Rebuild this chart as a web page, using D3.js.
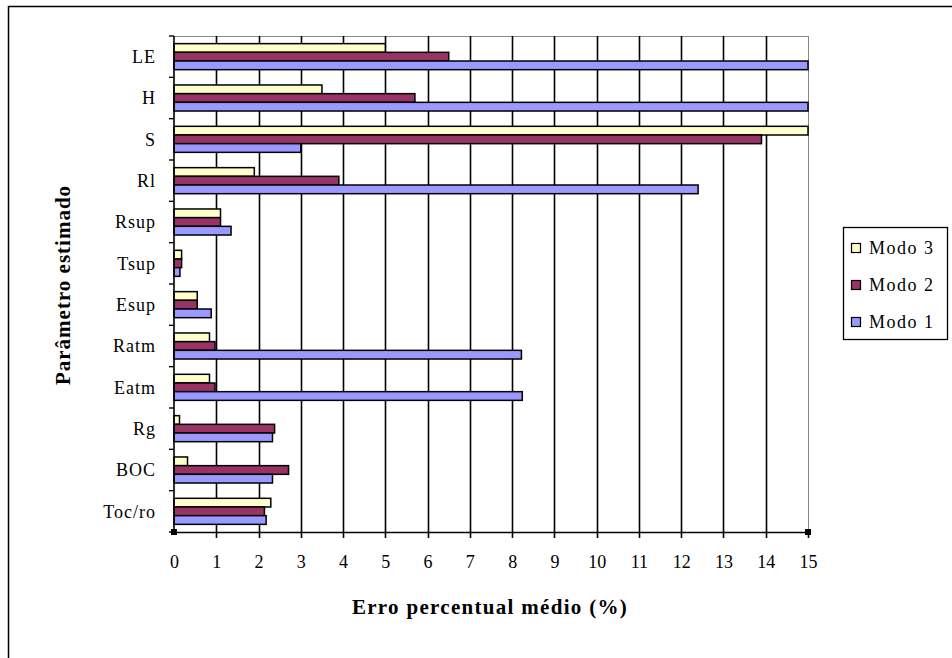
<!DOCTYPE html>
<html>
<head>
<meta charset="utf-8">
<script src="https://cdn.jsdelivr.net/npm/d3@7/dist/d3.min.js"></script>
<style>
  html, body { margin: 0; padding: 0; background: #fff; }
  svg { display: block; }
  svg text { font-family: "Liberation Serif", "DejaVu Serif", serif; fill: #000; }
</style>
</head>
<body>
<svg id="chart" width="952" height="658" font-family="Liberation Serif, serif"></svg>
<script>
// Parameters, top to bottom
const categories = ["LE", "H", "S", "Rl", "Rsup", "Tsup", "Esup", "Ratm", "Eatm", "Rg", "BOC", "Toc/ro"];
// Series in the order drawn within each group (top to bottom)
const seriesNames = ["Modo 3", "Modo 2", "Modo 1"];
// Mean percentage error per parameter; values above 15 run off the axis
const modo3 = [5.0, 3.5, 16.0, 1.9, 1.1, 0.18, 0.55, 0.84, 0.84, 0.13, 0.32, 2.29];
const modo2 = [6.5, 5.7, 13.9, 3.9, 1.1, 0.18, 0.55, 0.97, 0.97, 2.38, 2.71, 2.14];
const modo1 = [16.0, 16.0, 3.0, 12.4, 1.35, 0.14, 0.88, 8.22, 8.24, 2.33, 2.33, 2.18];
const xTicks = d3.range(0, 16, 1);
const colors = ["#FFFFCC", "#993366", "#9999FF"];

const seriesValues = [modo3, modo2, modo1];

const svg = d3.select("#chart");
const plotLeft = 174, plotRight = 808, plotTop = 36, plotBottom = 532;
const serif = "'Liberation Serif', 'DejaVu Serif', serif";

// outer chart frame
svg.append("rect").attr("x", 8.5).attr("y", 6.5).attr("width", 960).attr("height", 670)
  .attr("fill", "#fff").attr("stroke", "#000").attr("stroke-width", 1.5);

const x = d3.scaleLinear().domain([0, 15]).range([plotLeft, plotRight]).clamp(true);
const y0 = d3.scaleBand().domain(categories).range([plotTop, plotBottom])
  .paddingInner(0.37).paddingOuter(0.185);
const y1 = d3.scaleBand().domain(seriesNames).range([0, y0.bandwidth()]);

// plot area border (top and right, grey)
svg.append("line").attr("x1", plotLeft).attr("x2", plotRight).attr("y1", plotTop + 0.5).attr("y2", plotTop + 0.5)
  .attr("stroke", "#888").attr("stroke-width", 1);
svg.append("line").attr("x1", plotRight + 0.5).attr("x2", plotRight + 0.5).attr("y1", plotTop).attr("y2", plotBottom)
  .attr("stroke", "#888").attr("stroke-width", 1);

// vertical gridlines, extending below the axis as tick marks
svg.append("g").selectAll("line").data(xTicks.filter(d => d > 0 && d < 15)).join("line")
  .attr("x1", d => Math.round(x(d)) + 0.5).attr("x2", d => Math.round(x(d)) + 0.5)
  .attr("y1", plotTop).attr("y2", plotBottom + 6)
  .attr("stroke", "#000").attr("stroke-width", 1.6);
svg.append("line").attr("x1", Math.round(x(15)) + 0.5).attr("x2", Math.round(x(15)) + 0.5)
  .attr("y1", plotBottom).attr("y2", plotBottom + 6).attr("stroke", "#000").attr("stroke-width", 1.6);

// bars
const groups = svg.append("g").selectAll("g").data(categories).join("g")
  .attr("transform", d => `translate(0,${y0(d)})`);
groups.selectAll("rect")
  .data((c, i) => seriesNames.map((s, k) => ({ s, k, v: seriesValues[k][i] })))
  .join("rect")
  .attr("x", x(0))
  .attr("y", d => y1(d.s))
  .attr("width", d => x(d.v) - x(0))
  .attr("height", y1.bandwidth())
  .attr("fill", d => colors[d.k])
  .attr("stroke", "#000").attr("stroke-width", 1.5);

// x axis
const xAxis = svg.append("g").attr("transform", `translate(0,${plotBottom})`)
  .call(d3.axisBottom(x).tickValues(xTicks).tickSize(0).tickPadding(23).tickFormat(d3.format("d")));
xAxis.attr("font-family", null).attr("font-size", null);
xAxis.select(".domain").attr("stroke", "#000").attr("stroke-width", 1.6);
xAxis.selectAll("text").style("font-family", serif).style("font-size", "18px").attr("fill", "#000");

// y axis: line and boundary ticks
svg.append("line").attr("x1", plotLeft).attr("x2", plotLeft).attr("y1", plotTop).attr("y2", plotBottom)
  .attr("stroke", "#000").attr("stroke-width", 1.6);
const boundaries = categories.map(c => y0(c) - y0.step() * y0.paddingOuter())
  .concat([plotBottom]);
svg.append("g").selectAll("line").data(boundaries).join("line")
  .attr("x1", plotLeft - 5).attr("x2", plotLeft).attr("y1", d => d).attr("y2", d => d)
  .attr("stroke", "#000").attr("stroke-width", 1.4);
svg.append("g").selectAll("text").data(categories).join("text")
  .attr("x", 156).attr("y", d => y0(d) + y0.bandwidth() / 2)
  .attr("dy", "0.35em").attr("text-anchor", "end")
  .style("font-family", serif).style("font-size", "18px").style("letter-spacing", "1px")
  .text(d => d);

// corner markers
[x(0), x(15)].forEach(px => {
  svg.append("rect").attr("x", px - 3).attr("y", plotBottom - 3).attr("width", 6).attr("height", 6)
    .attr("fill", "#000");
});

// axis titles
svg.append("text").attr("x", 490).attr("y", 614).attr("text-anchor", "middle")
  .style("font-family", serif).style("font-size", "21px").style("font-weight", "bold")
  .style("letter-spacing", "1.3px").text("Erro percentual médio (%)");
svg.append("text").attr("transform", "translate(70,285) rotate(-90)").attr("text-anchor", "middle")
  .style("font-family", serif).style("font-size", "21px").style("font-weight", "bold")
  .style("letter-spacing", "1px").text("Parâmetro estimado");

// legend
const lg = svg.append("g");
lg.append("rect").attr("x", 843.5).attr("y", 227.5).attr("width", 104).attr("height", 112)
  .attr("fill", "#fff").attr("stroke", "#000").attr("stroke-width", 1.3);
const ly = [248, 285, 322];
seriesNames.forEach((s, k) => {
  lg.append("rect").attr("x", 851.5).attr("y", ly[k] - 4.5).attr("width", 9).attr("height", 9)
    .attr("fill", colors[k]).attr("stroke", "#000").attr("stroke-width", 1.2);
  lg.append("text").attr("x", 869).attr("y", ly[k]).attr("dy", "0.35em")
    .style("font-family", serif).style("font-size", "18px").style("letter-spacing", "1.5px")
    .text(s);
});
</script>
</body>
</html>
